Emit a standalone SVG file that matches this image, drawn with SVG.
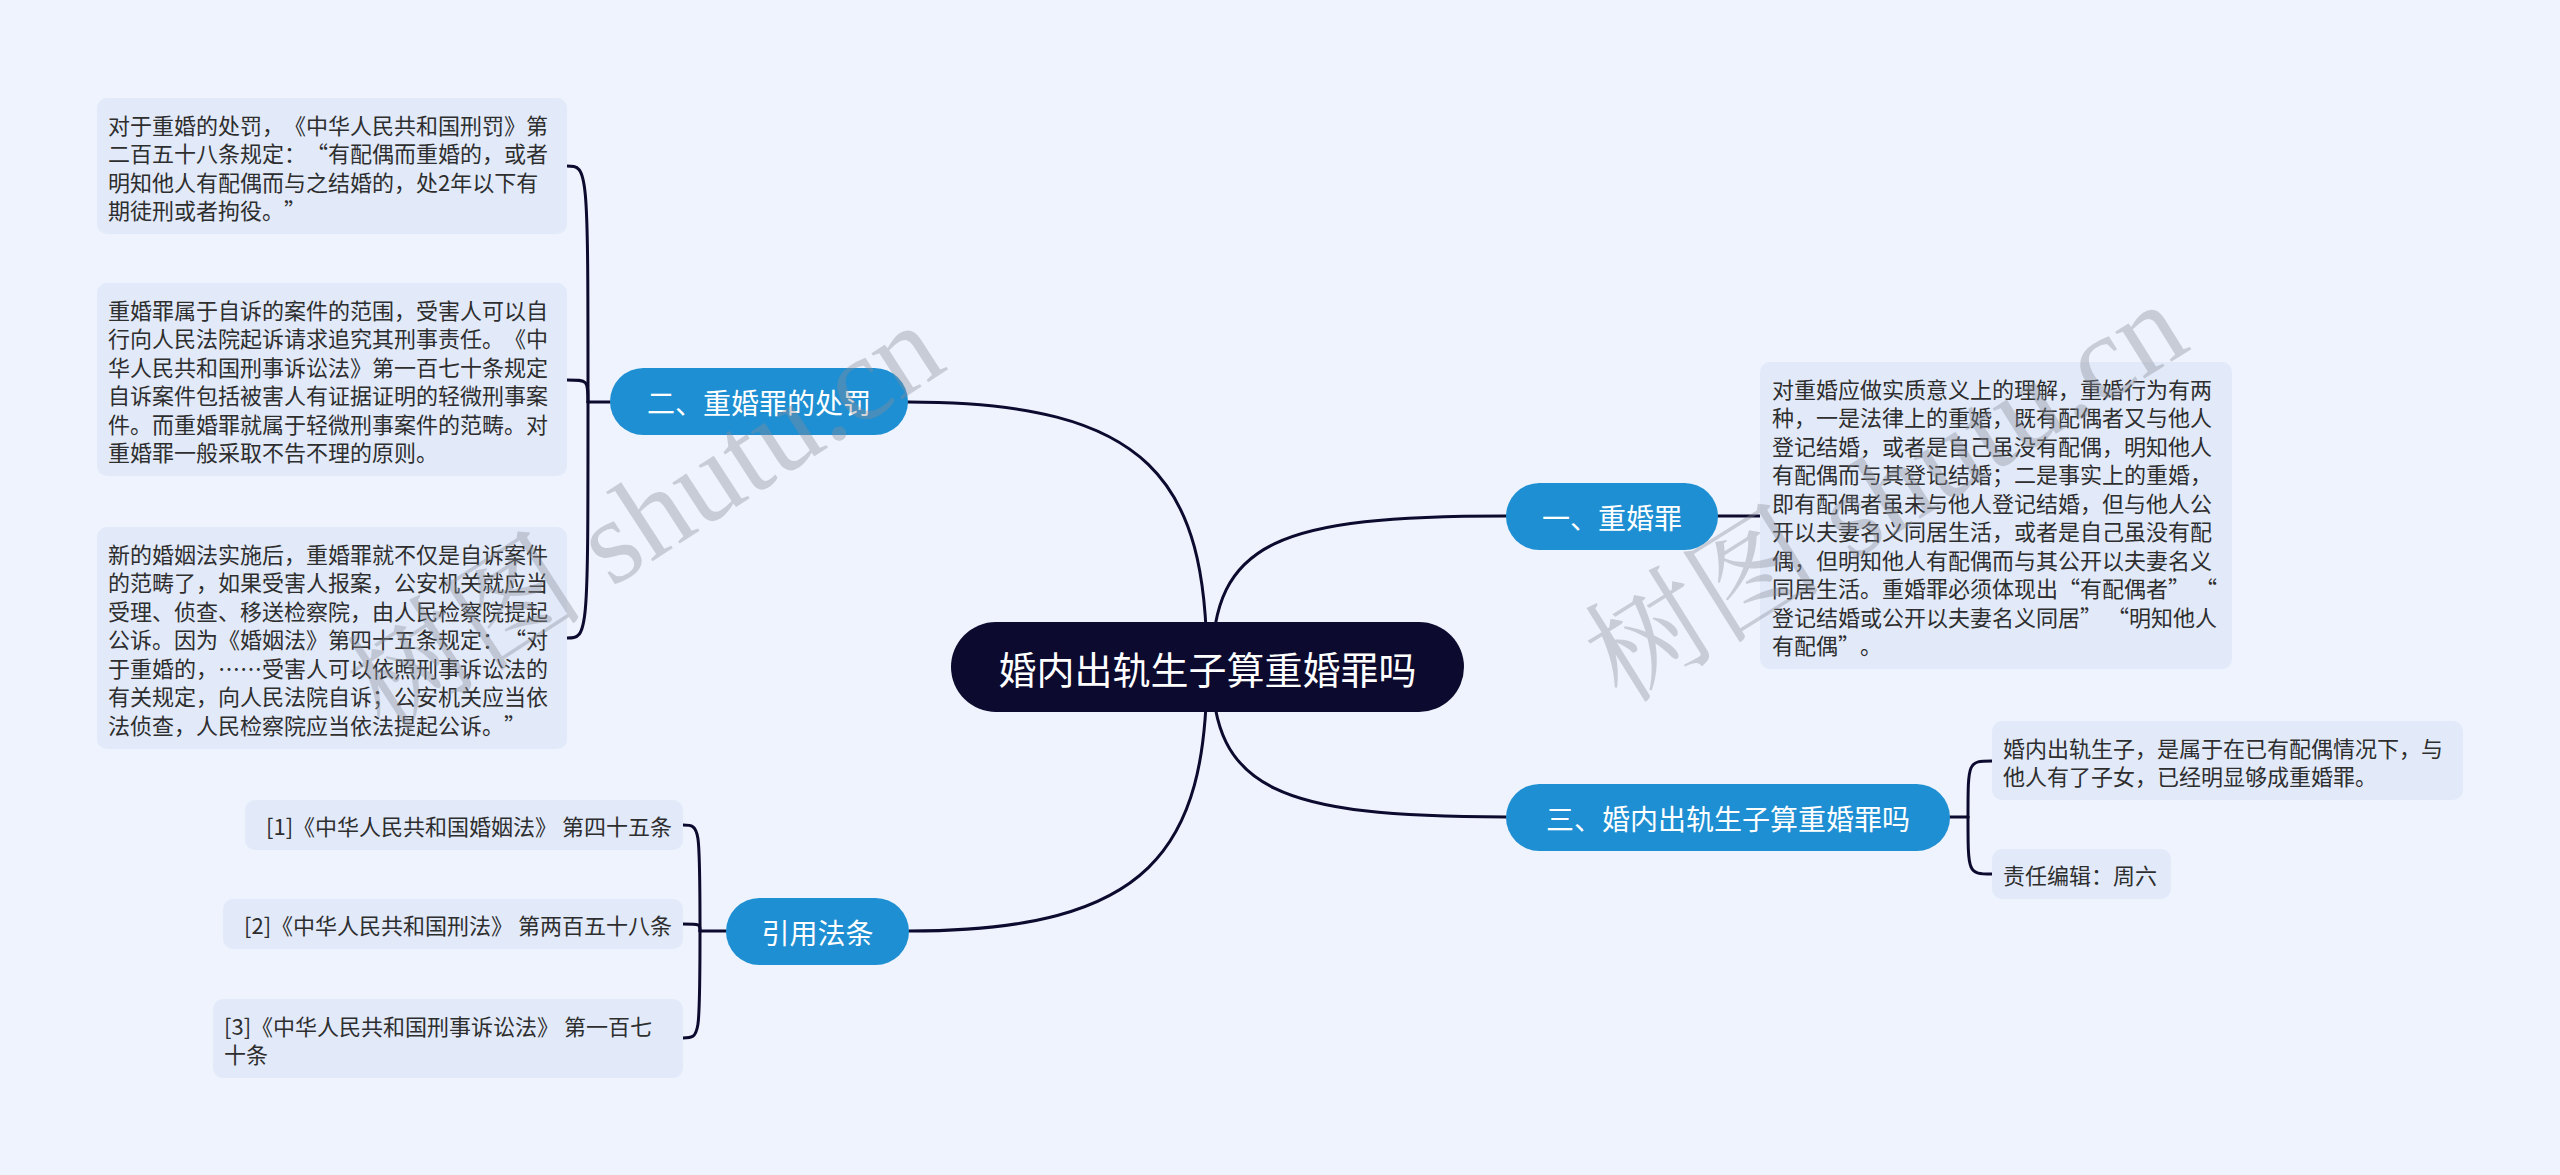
<svg xmlns="http://www.w3.org/2000/svg" width="2560" height="1175" viewBox="0 0 2560 1175">
<style>
text{text-spacing-trim:space-all}
.bg{fill:#eef3fd}
.leaf{fill:#e2eafa}
.lt{font-family:"Noto Sans CJK SC","Noto Sans",sans-serif;font-size:22px;fill:#2e2e2e;dominant-baseline:central}
.br{fill:#1e8fd2}
.bt{font-family:"Noto Sans CJK SC","Noto Sans",sans-serif;font-size:28px;fill:#ffffff;text-anchor:middle;dominant-baseline:central}
.root{fill:#0c0a2e}
.rt{font-family:"Noto Sans CJK SC","Noto Sans",sans-serif;font-size:38px;fill:#ffffff;text-anchor:middle;dominant-baseline:central}
.c{fill:none;stroke:#0c0a2e;stroke-width:3;stroke-linecap:round}
.wm{font-family:"Liberation Serif","Noto Serif CJK SC","Noto Sans CJK SC",serif;font-size:120px;fill:#8a8e99;opacity:0.38}
</style>
<rect class="bg" x="0" y="0" width="2560" height="1175"/>

<g id="connectors">
  <path class="c" d="M1207,667 C1207,480 1150,402 908,402"/>
  <path class="c" d="M1207,667 C1207,850 1150,931 909,931"/>
  <path class="c" d="M1212,667 C1212,540 1280,516 1506,516"/>
  <path class="c" d="M1212,667 C1212,790 1280,817 1506,817"/>
  <path class="c" d="M610,402 L588,402"/>
  <path class="c" d="M588,402 C588,166 588,166 567,166"/>
  <path class="c" d="M588,402 C588,380 588,380 567,380"/>
  <path class="c" d="M588,402 C588,638 588,638 567,638"/>
  <path class="c" d="M726,931 L700,931"/>
  <path class="c" d="M700,931 C700,825 700,825 683,825"/>
  <path class="c" d="M700,931 C700,924 700,924 683,924"/>
  <path class="c" d="M700,931 C700,1038 700,1038 683,1038"/>
  <path class="c" d="M1718,516 L1760,516"/>
  <path class="c" d="M1950,817 L1968,817"/>
  <path class="c" d="M1968,817 C1968,761 1968,761 1992,761"/>
  <path class="c" d="M1968,817 C1968,874 1968,874 1992,874"/>
</g>

<g id="root">
  <rect class="root" x="951" y="622" width="513" height="90" rx="45"/>
  <text class="rt" x="1207.5" y="667">婚内出轨生子算重婚罪吗</text>
</g>

<g id="b2">
  <rect class="br" x="610" y="368" width="298" height="67" rx="33.5"/>
  <text class="bt" x="759" y="401.5">二、重婚罪的处罚</text>
</g>
<g id="b1">
  <rect class="br" x="1506" y="483" width="212" height="67" rx="33.5"/>
  <text class="bt" x="1612" y="516.5">一、重婚罪</text>
</g>
<g id="b3">
  <rect class="br" x="1506" y="784" width="444" height="67" rx="33.5"/>
  <text class="bt" x="1728" y="817.5">三、婚内出轨生子算重婚罪吗</text>
</g>
<g id="b4">
  <rect class="br" x="726" y="898" width="183" height="67" rx="33.5"/>
  <text class="bt" x="817.5" y="931.5">引用法条</text>
</g>

<g id="leaf1">
  <rect class="leaf" x="97" y="98" width="470" height="136" rx="10"/>
  <text class="lt" x="108" y="123.5">对于重婚的处罚，《中华人民共和国刑罚》第</text>
  <text class="lt" x="108" y="152">二百五十八条规定：“有配偶而重婚的，或者</text>
  <text class="lt" x="108" y="180.5">明知他人有配偶而与之结婚的，处2年以下有</text>
  <text class="lt" x="108" y="209">期徒刑或者拘役。”</text>
</g>
<g id="leaf2">
  <rect class="leaf" x="97" y="283" width="470" height="193" rx="10"/>
  <text class="lt" x="108" y="308.5">重婚罪属于自诉的案件的范围，受害人可以自</text>
  <text class="lt" x="108" y="337">行向人民法院起诉请求追究其刑事责任。《中</text>
  <text class="lt" x="108" y="365.5">华人民共和国刑事诉讼法》第一百七十条规定</text>
  <text class="lt" x="108" y="394">自诉案件包括被害人有证据证明的轻微刑事案</text>
  <text class="lt" x="108" y="422.5">件。而重婚罪就属于轻微刑事案件的范畴。对</text>
  <text class="lt" x="108" y="451">重婚罪一般采取不告不理的原则。</text>
</g>
<g id="leaf3">
  <rect class="leaf" x="97" y="527" width="470" height="222" rx="10"/>
  <text class="lt" x="108" y="552.5">新的婚姻法实施后，重婚罪就不仅是自诉案件</text>
  <text class="lt" x="108" y="581">的范畴了，如果受害人报案，公安机关就应当</text>
  <text class="lt" x="108" y="609.5">受理、侦查、移送检察院，由人民检察院提起</text>
  <text class="lt" x="108" y="638">公诉。因为《婚姻法》第四十五条规定：“对</text>
  <text class="lt" x="108" y="666.5">于重婚的，……受害人可以依照刑事诉讼法的</text>
  <text class="lt" x="108" y="695">有关规定，向人民法院自诉；公安机关应当依</text>
  <text class="lt" x="108" y="723.5">法侦查，人民检察院应当依法提起公诉。”</text>
</g>
<g id="leaf4">
  <rect class="leaf" x="1760" y="362" width="472" height="307" rx="10"/>
  <text class="lt" x="1772" y="387.5">对重婚应做实质意义上的理解，重婚行为有两</text>
  <text class="lt" x="1772" y="416">种，一是法律上的重婚，既有配偶者又与他人</text>
  <text class="lt" x="1772" y="444.5">登记结婚，或者是自己虽没有配偶，明知他人</text>
  <text class="lt" x="1772" y="473">有配偶而与其登记结婚；二是事实上的重婚，</text>
  <text class="lt" x="1772" y="501.5">即有配偶者虽未与他人登记结婚，但与他人公</text>
  <text class="lt" x="1772" y="530">开以夫妻名义同居生活，或者是自己虽没有配</text>
  <text class="lt" x="1772" y="558.5">偶，但明知他人有配偶而与其公开以夫妻名义</text>
  <text class="lt" x="1772" y="587">同居生活。重婚罪必须体现出“有配偶者” “</text>
  <text class="lt" x="1772" y="615.5">登记结婚或公开以夫妻名义同居” “明知他人</text>
  <text class="lt" x="1772" y="644">有配偶”。</text>
</g>
<g id="leaf5">
  <rect class="leaf" x="1992" y="721" width="471" height="79" rx="10"/>
  <text class="lt" x="2003" y="746.5">婚内出轨生子，是属于在已有配偶情况下，与</text>
  <text class="lt" x="2003" y="775">他人有了子女，已经明显够成重婚罪。</text>
</g>
<g id="leaf6">
  <rect class="leaf" x="1992" y="849" width="179" height="50" rx="10"/>
  <text class="lt" x="2003" y="874">责任编辑：周六</text>
</g>
<g id="ref1">
  <rect class="leaf" x="245" y="800" width="438" height="50" rx="10"/>
  <text class="lt" x="672" y="825" text-anchor="end">[1]《中华人民共和国婚姻法》 第四十五条</text>
</g>
<g id="ref2">
  <rect class="leaf" x="223" y="899" width="460" height="50" rx="10"/>
  <text class="lt" x="672" y="924" text-anchor="end">[2]《中华人民共和国刑法》 第两百五十八条</text>
</g>
<g id="ref3">
  <rect class="leaf" x="213" y="999" width="470" height="79" rx="10"/>
  <text class="lt" x="224" y="1024.5">[3]《中华人民共和国刑事诉讼法》 第一百七</text>
  <text class="lt" x="224" y="1053">十条</text>
</g>

<g id="watermarks">
  <text class="wm" transform="translate(385,735) rotate(-33)">树图 shutu.cn</text>
  <text class="wm" transform="translate(1622,705) rotate(-32)">树图 shutu.cn</text>
</g>
</svg>
